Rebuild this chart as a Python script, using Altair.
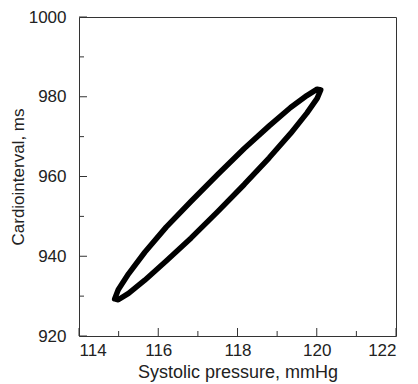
import altair as alt
import pandas as pd

# Loop (Systolic pressure, mmHg vs Cardiointerval, ms)
sbp = [120.10, 120.01, 119.75, 119.34, 118.80, 118.17, 117.50, 116.83, 116.20, 115.66,
       115.25, 114.99, 114.90, 114.99, 115.25, 115.66, 116.20, 116.83, 117.50, 118.17,
       118.80, 119.34, 119.75, 120.01, 120.10]
rr = [981.7, 981.9, 980.3, 977.3, 972.7, 967.0, 960.5, 953.8, 947.3, 941.0,
      935.6, 931.6, 929.3, 929.1, 930.7, 934.0, 938.8, 944.6, 951.2, 958.0,
      964.7, 970.8, 975.9, 979.6, 981.7]

x_major = [114, 116, 118, 120, 122]
x_minor = [115, 117, 119, 121]
y_major = [920, 940, 960, 980, 1000]
y_minor = [930, 950, 970, 990]

FONT = "Liberation Sans"
W, H = 317, 319

loop = pd.DataFrame({"x": sbp, "y": rr, "i": list(range(len(sbp)))})

xs = alt.Scale(domain=[114, 122], nice=False, zero=False)
ys = alt.Scale(domain=[920, 1000], nice=False, zero=False)

line = alt.Chart(loop).mark_line(color="black", strokeWidth=5.5, strokeCap="round",
                                 strokeJoin="round").encode(
    x=alt.X("x:Q", scale=xs,
            axis=alt.Axis(values=x_major, format="d", title="Systolic pressure, mmHg",
                          ticks=False, domain=False, grid=False, labelPadding=6,
                          titlePadding=5, titleFontSize=18)),
    y=alt.Y("y:Q", scale=ys,
            axis=alt.Axis(values=y_major, format="d", title="Cardiointerval, ms",
                          ticks=False, domain=False, grid=False, labelPadding=13,
                          titlePadding=1)),
    order="i:O",
)

def xticks(vals, length):
    return alt.Chart(pd.DataFrame({"v": vals})).mark_rule(color="#333", strokeWidth=1).encode(
        x=alt.X("v:Q", scale=xs), y=alt.value(H), y2=alt.value(H - length))

def yticks(vals, length):
    return alt.Chart(pd.DataFrame({"v": vals})).mark_rule(color="#333", strokeWidth=1).encode(
        y=alt.Y("v:Q", scale=ys), x=alt.value(0), x2=alt.value(length))

chart = alt.layer(
    xticks(x_major, 8), xticks(x_minor, 5), yticks(y_major, 8), yticks(y_minor, 5), line
).properties(width=W, height=H,
             autosize=alt.AutoSizeParams(type="none"),
             padding={"left": 71, "top": 9, "right": 14, "bottom": 47}
).configure_view(stroke="#333", strokeWidth=1
).configure_axis(labelFont=FONT, titleFont=FONT, labelFontSize=17, titleFontSize=17,
                 titleFontWeight="normal", labelColor="#222", titleColor="#222")

chart.save("out.html", embed_options={"renderer": "svg", "actions": False})
